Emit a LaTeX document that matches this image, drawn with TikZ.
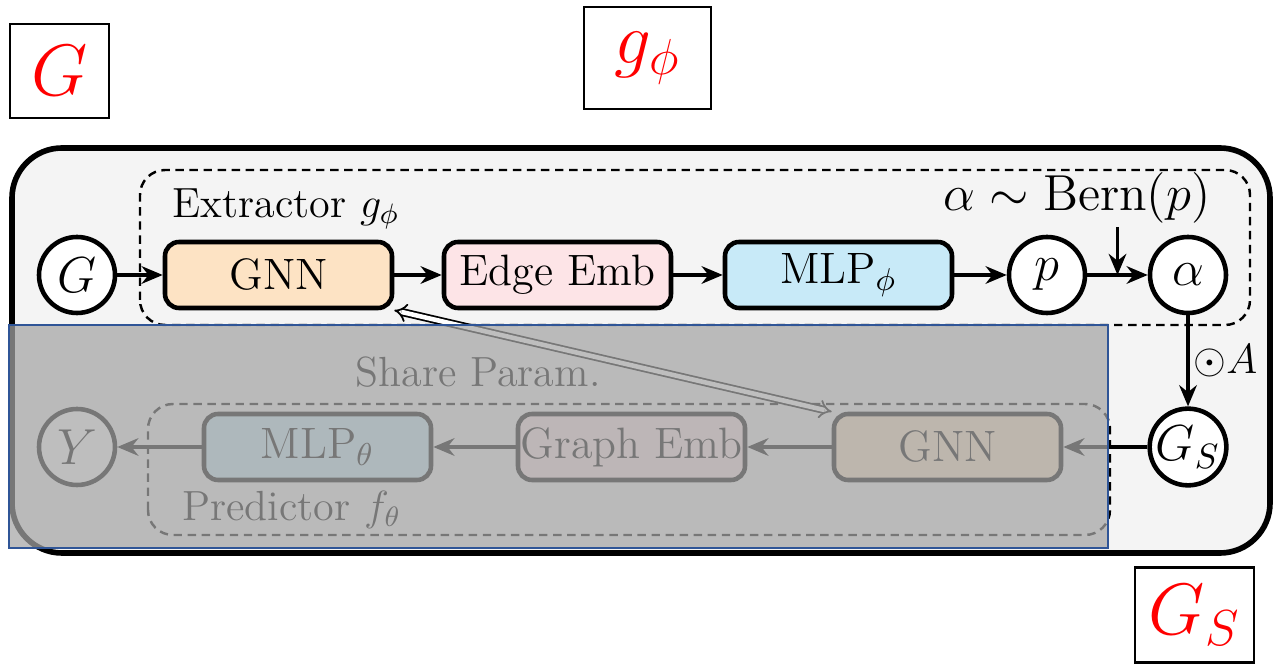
\documentclass[tikz,border=0pt]{standalone}
\usepackage{amsmath,amssymb}
\usetikzlibrary{calc,arrows.meta,positioning}
\definecolor{gnnOrange}{RGB}{253,227,196}
\definecolor{embPink}{RGB}{253,228,231}
\definecolor{mlpBlue}{RGB}{200,234,248}
\definecolor{panelGray}{RGB}{244,244,244}
\definecolor{fadeGray}{RGB}{165,165,165}
\definecolor{fadeBlue}{RGB}{47,85,151}

\begin{document}
\begin{tikzpicture}[
  font=\fontsize{12}{14}\selectfont,
  block/.style={draw, line width=1.3pt, rounded corners=4pt, minimum width=2.27cm, minimum height=0.66cm, inner sep=0pt, font=\fontsize{12.5}{14}\selectfont},
  circ/.style={draw, circle, fill=white, line width=1.3pt, minimum size=0.76cm, inner sep=0pt, font=\fontsize{14}{16}\selectfont},
  flow/.style={line width=1.1pt, -{Stealth[length=6pt,width=5pt]}},
  frame/.style={line width=0.7pt, dash pattern=on 2.4pt off 1.6pt, rounded corners=0.25cm},
  tag/.style={draw, line width=0.6pt, text=red, inner sep=0pt, font=\fontsize{20}{22}\selectfont}
]
\useasboundingbox (0,0) rectangle (12.73,6.64);

% outer panel
\draw[fill=panelGray, line width=1.6pt, rounded corners=0.5cm] (0.12,1.11) rectangle (12.70,5.16);

% extractor / predictor frames
\draw[frame] (1.40,3.39) rectangle (12.50,4.94);
\draw[frame] (1.48,1.29) rectangle (11.10,2.60);

% extractor row
\node[circ] (gIn) at (0.77,3.89) {$G$};
\node[block, fill=gnnOrange] (gnnE) at (2.785,3.89) {GNN};
\node[block, fill=embPink] (edgeEmb) at (5.575,3.89) {Edge Emb};
\node[block, fill=mlpBlue] (mlpPhi) at (8.385,3.89) {MLP$_\phi$};
\node[circ] (pNode) at (10.47,3.89) {$p$};
\node[circ] (aNode) at (11.88,3.89) {$\alpha$};
\node[anchor=west] (extLabel) at (1.60,4.55) {Extractor $g_\phi$};
\node[font=\fontsize{13.5}{16}\selectfont] (bernLabel) at (10.77,4.66) {$\alpha\sim\mathrm{Bern}(p)$};
\coordinate (bernTip) at ($(pNode.east)!0.5!(aNode.west)$);
\coordinate (bernTail) at ([yshift=0.48cm]bernTip);

% predictor row
\node[circ] (gS) at (11.88,2.17) {$G_S$};
\node[block, fill=gnnOrange] (gnnP) at (9.475,2.17) {GNN};
\node[block, fill=embPink] (graphEmb) at (6.315,2.17) {Graph Emb};
\node[block, fill=mlpBlue] (mlpTheta) at (3.175,2.17) {MLP$_\theta$};
\node[circ] (yOut) at (0.77,2.17) {$Y$};
\node[anchor=west] (predLabel) at (1.70,1.54) {Predictor $f_\theta$};
\node (shareLabel) at (4.78,2.92) {Share Param.};

\draw[flow] (gIn) -- (gnnE);
\draw[flow] (gnnE) -- (edgeEmb);
\draw[flow] (edgeEmb) -- (mlpPhi);
\draw[flow] (mlpPhi) -- (pNode);
\draw[flow] (pNode) -- (aNode);
\draw[flow] (bernTail) -- (bernTip);
\draw[flow] (aNode) -- (gS) node[midway, right, inner sep=1pt, font=\fontsize{13}{15}\selectfont] {$\odot A$};
\draw[flow] (gS) -- (gnnP);
\draw[flow] (gnnP) -- (graphEmb);
\draw[flow] (graphEmb) -- (mlpTheta);
\draw[flow] (mlpTheta) -- (yOut);
\draw[double, double distance=1.3pt, line width=0.5pt, {Implies}-{Implies}] (gnnP.north west) -- (gnnE.south east);

% greyed-out predictor
\draw[fadeBlue, line width=0.6pt, fill=fadeGray, fill opacity=0.72] (0.09,1.16) rectangle (11.08,3.39);

% red tags
\node[tag, minimum width=0.99cm, minimum height=0.94cm] (tagG) at (0.595,5.93) {$G$};
\node[tag, minimum width=1.27cm, minimum height=1.02cm] (tagPhi) at (6.475,6.06) {$g_\phi$};
\node[tag, minimum width=1.19cm, minimum height=0.95cm] (tagS) at (11.945,0.49) {$G_S$};
\end{tikzpicture}
\end{document}
